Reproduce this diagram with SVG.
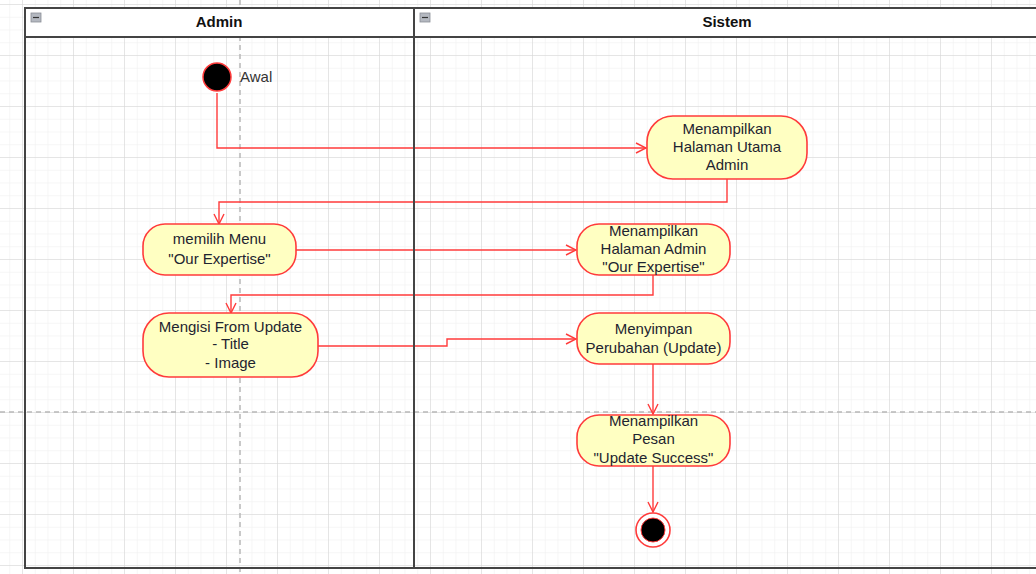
<svg xmlns="http://www.w3.org/2000/svg" width="1036" height="574" viewBox="0 0 1036 574">
  <defs>
    <pattern id="minor" x="22" y="4" width="12.75" height="12.75" patternUnits="userSpaceOnUse">
      <path d="M0,0 V12.75 M0,0 H12.75" fill="none" stroke="#eeeeee" stroke-width="1"/>
    </pattern>
    <pattern id="major" x="22" y="4" width="51" height="51" patternUnits="userSpaceOnUse">
      <path d="M0,0 V51 M0,0 H51" fill="none" stroke="#d4d4d4" stroke-width="1"/>
    </pattern>
    <marker id="arrow" viewBox="0 0 12 12" markerWidth="12" markerHeight="12" refX="11" refY="6" orient="auto" markerUnits="userSpaceOnUse">
      <path d="M1,1 L11,6 L1,11" fill="none" stroke="#ff3b3b" stroke-width="1.4"/>
    </marker>
  </defs>
  <style>
    .node rect { fill: #ffffc2; stroke: #ff3b3b; stroke-width: 1.6; }
    .label { font-family: "Liberation Sans", Arial, sans-serif; font-size: 15px; fill: #1e2430; text-anchor: middle; }
    .head { font-family: "Liberation Sans", Arial, sans-serif; font-size: 15px; font-weight: bold; fill: #111; text-anchor: middle; }
    .edge { fill: none; stroke: #ff3b3b; stroke-width: 1.4; marker-end: url(#arrow); }
    .frame { fill: none; stroke: #444; stroke-width: 2; }
    .pagebreak { stroke: #b8b8b8; stroke-width: 1.5; stroke-dasharray: 5 4; fill: none; }
  </style>

  <!-- canvas grid -->
  <rect width="1036" height="574" fill="#ffffff"/>
  <rect width="1036" height="574" fill="url(#minor)"/>
  <rect width="1036" height="574" fill="url(#major)"/>

  <!-- page break guides -->
  <path class="pagebreak" d="M240,0 V574"/>
  <path class="pagebreak" d="M0,412 H1036"/>

  <!-- swimlane headers -->
  <g id="lane-admin-header">
    <rect x="25" y="8" width="389" height="29" fill="#ffffff"/>
    <rect x="31" y="13" width="10" height="9" fill="#b4b8c0" stroke="#8a8e96" stroke-width="0.8"/>
    <path d="M33,17.5 H39" stroke="#333" stroke-width="1.2"/>
    <text class="head" x="219" y="27">Admin</text>
  </g>
  <g id="lane-sistem-header">
    <rect x="414" y="8" width="630" height="29" fill="#ffffff"/>
    <rect x="420" y="13" width="10" height="9" fill="#b4b8c0" stroke="#8a8e96" stroke-width="0.8"/>
    <path d="M422,17.5 H428" stroke="#333" stroke-width="1.2"/>
    <text class="head" x="727" y="27">Sistem</text>
  </g>

  <!-- connectors -->
  <g id="connectors">
    <path class="edge" d="M217,93 V148 H646"/>
    <path class="edge" d="M727,179 V202 H219 V224"/>
    <path class="edge" d="M296,250 H576"/>
    <path class="edge" d="M653,275 V295 H231 V313"/>
    <path class="edge" d="M318,346 H447 V339 H576"/>
    <path class="edge" d="M653,364 V414"/>
    <path class="edge" d="M653,466 V512"/>
  </g>

  <!-- swimlane frame -->
  <g id="swimlanes">
    <path class="frame" d="M1044,8 H25 V568 H1044"/>
    <path class="frame" d="M25,37 H1044"/>
    <path class="frame" d="M414,8 V568"/>
  </g>

  <!-- initial node -->
  <g id="start">
    <circle cx="217" cy="77" r="14" fill="#000" stroke="#ff3b3b" stroke-width="1.5"/>
    <text x="240" y="82" font-family="Liberation Sans, Arial, sans-serif" font-size="15" fill="#333">Awal</text>
  </g>

  <g id="n1" class="node">
    <rect x="647" y="116" width="160" height="63" rx="26"/>
    <text class="label"><tspan x="727" y="134">Menampilkan</tspan><tspan x="727" y="152">Halaman Utama</tspan><tspan x="727" y="170">Admin</tspan></text>
  </g>

  <g id="n2" class="node">
    <rect x="143" y="224" width="153" height="51" rx="22"/>
    <text class="label"><tspan x="219.5" y="244">memilih Menu</tspan><tspan x="219.5" y="264">"Our Expertise"</tspan></text>
  </g>

  <g id="n3" class="node">
    <rect x="577" y="224" width="153" height="51" rx="22"/>
    <text class="label"><tspan x="653.5" y="236">Menampilkan</tspan><tspan x="653.5" y="254">Halaman Admin</tspan><tspan x="653.5" y="272">"Our Expertise"</tspan></text>
  </g>

  <g id="n4" class="node">
    <rect x="143" y="313" width="175" height="64" rx="26"/>
    <text class="label"><tspan x="230.5" y="332">Mengisi From Update</tspan><tspan x="230.5" y="349">- Title</tspan><tspan x="230.5" y="368">- Image</tspan></text>
  </g>

  <g id="n5" class="node">
    <rect x="577" y="313" width="153" height="51" rx="22"/>
    <text class="label"><tspan x="653.5" y="334">Menyimpan</tspan><tspan x="653.5" y="353">Perubahan (Update)</tspan></text>
  </g>

  <g id="n6" class="node">
    <rect x="577" y="415" width="153" height="51" rx="22"/>
    <text class="label"><tspan x="653.5" y="426">Menampilkan</tspan><tspan x="653.5" y="444">Pesan</tspan><tspan x="653.5" y="463">"Update Success"</tspan></text>
  </g>

  <!-- final node -->
  <g id="end">
    <circle cx="653" cy="530" r="17" fill="#fff" stroke="#ff3b3b" stroke-width="1.6"/>
    <circle cx="653" cy="530" r="12" fill="#000" stroke="#ff3b3b" stroke-width="1"/>
  </g>
</svg>
